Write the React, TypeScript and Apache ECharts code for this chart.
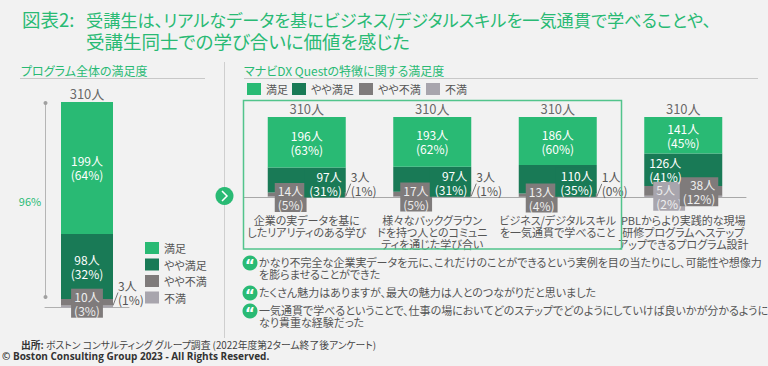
import React, { useEffect, useRef } from 'react';
import * as echarts from 'echarts';

const FONT = "'Noto Sans CJK JP', 'Noto Sans', sans-serif";
const GREEN = '#29BA74';
const TEXT_GRAY = '#555555';

const seriesNames = ['満足', 'やや満足', 'やや不満', '不満'];
const seriesColors = ['#29BA74', '#197A56', '#7F7B7B', '#A8A5AD'];

// Left: program overall
const overallCategory = ['プログラム全体'];
const overallTotal = [310];
const overallSatisfied = [199];
const overallSatisfiedPct = [64];
const overallSomewhatSatisfied = [98];
const overallSomewhatSatisfiedPct = [32];
const overallSomewhatDissatisfied = [10];
const overallSomewhatDissatisfiedPct = [3];
const overallDissatisfied = [3];
const overallDissatisfiedPct = [1];
const overallBracketLabel = '96%';

// Right: features of Manabi DX Quest
const featureCategories = [
  '企業の実データを基に\nしたリアリティのある学び',
  '様々なバックグラウン\nドを持つ人とのコミュニ\nティを通じた学び合い',
  'ビジネス/デジタルスキル\nを一気通貫で学べること',
  'PBLからより実践的な現場\n研修プログラムへステップ\nアップできるプログラム設計',
];
const featureTotal = [310, 310, 310, 310];
const featureSatisfied = [196, 193, 186, 141];
const featureSatisfiedPct = [63, 62, 60, 45];
const featureSomewhatSatisfied = [97, 97, 110, 126];
const featureSomewhatSatisfiedPct = [31, 31, 35, 41];
const featureSomewhatDissatisfied = [14, 17, 13, 38];
const featureSomewhatDissatisfiedPct = [5, 5, 4, 12];
const featureDissatisfied = [3, 3, 1, 5];
const featureDissatisfiedPct = [1, 1, 0, 2];

const titleLine1Head = '図表2:';
const titleLine1 = '受講生は、リアルなデータを基にビジネス/デジタルスキルを一気通貫で学べることや、';
const titleLine2 = '受講生同士での学び合いに価値を感じた';
const leftSubtitle = 'プログラム全体の満足度';
const rightSubtitle = 'マナビDX Questの特徴に関する満足度';
const quotes = [
  ['かなり不完全な企業実データを元に、これだけのことができるという実例を目の当たりにし、可能性や想像力', 'を膨らませることができた'],
  ['たくさん魅力はありますが、最大の魅力は人とのつながりだと思いました'],
  ['一気通貫で学べるということで、仕事の場においてどのステップでどのようにしていけば良いかが分かるように', 'なり貴重な経験だった'],
];
const sourceText = '{b|出所:} ボストン コンサルティング グループ調査 (2022年度第2ターム終了後アンケート)';
const copyrightText = '© Boston Consulting Group 2023 - All Rights Reserved.';

const lbl = (v: number, p: number) => `${v}人\n(${p}%)`;

const baseLabel = {
  show: true,
  color: '#ffffff',
  fontSize: 12,
  lineHeight: 14,
  fontFamily: FONT,
};

function txt(x: number, y: number, text: string, o: any = {}) {
  const align = o.align || 'left';
  return {
    type: 'text',
    x,
    y,
    silent: true,
    z: 10,
    style: {
      text,
      fill: o.fill || TEXT_GRAY,
      fontSize: o.fontSize || 11,
      fontFamily: o.fontFamily || FONT,
      fontWeight: o.fontWeight || 'normal',
      align,
      textAlign: align,
      verticalAlign: 'middle',
      textVerticalAlign: 'middle',
      rich: o.rich,
    },
  };
}

function buildOption() {
  const leftSeries: any[] = [
    {
      name: seriesNames[3],
      type: 'bar',
      stack: 'L',
      xAxisIndex: 0,
      yAxisIndex: 0,
      barWidth: 52,
      itemStyle: { color: seriesColors[3] },
      labelLine: { show: true, lineStyle: { color: '#777', width: 1 } },
      labelLayout: () => ({ dx: 2, dy: -14 }),
      data: overallDissatisfied.map((v, i) => ({
        value: v,
        label: { ...baseLabel, position: 'right', distance: 3, color: TEXT_GRAY, formatter: lbl(v, overallDissatisfiedPct[i]) },
      })),
    },
    {
      name: seriesNames[2],
      type: 'bar',
      stack: 'L',
      xAxisIndex: 0,
      yAxisIndex: 0,
      barWidth: 52,
      itemStyle: { color: seriesColors[2] },
      data: overallSomewhatDissatisfied.map((v, i) => ({
        value: v,
        label: {
          ...baseLabel,
          position: 'inside',
          offset: [0, 1],
          color: '#eeeeee',
          backgroundColor: seriesColors[2],
          padding: [1, 3, 0, 3],
          formatter: lbl(v, overallSomewhatDissatisfiedPct[i]),
        },
      })),
    },
    {
      name: seriesNames[1],
      type: 'bar',
      stack: 'L',
      xAxisIndex: 0,
      yAxisIndex: 0,
      barWidth: 52,
      itemStyle: { color: seriesColors[1] },
      data: overallSomewhatSatisfied.map((v, i) => ({
        value: v,
        label: { ...baseLabel, position: 'inside', formatter: lbl(v, overallSomewhatSatisfiedPct[i]) },
      })),
    },
    {
      name: seriesNames[0],
      type: 'bar',
      stack: 'L',
      xAxisIndex: 0,
      yAxisIndex: 0,
      barWidth: 52,
      itemStyle: { color: seriesColors[0] },
      data: overallSatisfied.map((v, i) => ({
        value: v,
        label: { ...baseLabel, position: 'inside', formatter: lbl(v, overallSatisfiedPct[i]) },
      })),
    },
    {
      name: 'total-left',
      type: 'scatter',
      xAxisIndex: 0,
      yAxisIndex: 0,
      symbolSize: 1,
      silent: true,
      itemStyle: { color: 'rgba(0,0,0,0)' },
      label: { show: true, position: 'top', distance: 2, formatter: '{c}人', color: '#444', fontSize: 13, fontFamily: FONT },
      data: overallTotal,
    },
  ];

  const rightSeries: any[] = [
    {
      name: seriesNames[3],
      type: 'bar',
      stack: 'R',
      xAxisIndex: 1,
      yAxisIndex: 1,
      barWidth: 78,
      itemStyle: { color: seriesColors[3] },
      labelLine: { show: true, lineStyle: { color: '#777', width: 1 } },
      labelLayout: (p: any) => (p.dataIndex < 3 ? { dx: 2, dy: -13 } : {}),
      data: featureDissatisfied.map((v, i) => ({
        value: v,
        labelLine: { show: i < 3 },
        label:
          i < 3
            ? { ...baseLabel, position: 'right', distance: 3, color: TEXT_GRAY, formatter: lbl(v, featureDissatisfiedPct[i]) }
            : {
                ...baseLabel,
                position: 'insideLeft',
                distance: 9,
                color: '#eeeeee',
                backgroundColor: seriesColors[3],
                padding: [1, 3, 0, 3],
                formatter: lbl(v, featureDissatisfiedPct[i]),
              },
      })),
    },
    {
      name: seriesNames[2],
      type: 'bar',
      stack: 'R',
      xAxisIndex: 1,
      yAxisIndex: 1,
      barWidth: 78,
      itemStyle: { color: seriesColors[2] },
      data: featureSomewhatDissatisfied.map((v, i) => ({
        value: v,
        label: {
          ...baseLabel,
          position: i < 3 ? 'insideLeft' : 'insideRight',
          distance: i < 3 ? 7 : 4,
          offset: i < 3 ? [0, 3] : [0, 1],
          color: '#eeeeee',
          backgroundColor: seriesColors[2],
          padding: [1, 3, 0, 3],
          formatter: lbl(v, featureSomewhatDissatisfiedPct[i]),
        },
      })),
    },
    {
      name: seriesNames[1],
      type: 'bar',
      stack: 'R',
      xAxisIndex: 1,
      yAxisIndex: 1,
      barWidth: 78,
      itemStyle: { color: seriesColors[1] },
      data: featureSomewhatSatisfied.map((v, i) => ({
        value: v,
        label:
          i < 3
            ? {
                ...baseLabel,
                position: 'insideRight',
                distance: 1,
                offset: [0, 3],
                backgroundColor: seriesColors[1],
                padding: [1, 3, 0, 5],
                formatter: lbl(v, featureSomewhatSatisfiedPct[i]),
              }
            : { ...baseLabel, position: 'insideLeft', distance: 5, offset: [0, 0], formatter: lbl(v, featureSomewhatSatisfiedPct[i]) },
      })),
    },
    {
      name: seriesNames[0],
      type: 'bar',
      stack: 'R',
      xAxisIndex: 1,
      yAxisIndex: 1,
      barWidth: 78,
      itemStyle: { color: seriesColors[0] },
      data: featureSatisfied.map((v, i) => ({
        value: v,
        label: { ...baseLabel, position: 'inside', formatter: lbl(v, featureSatisfiedPct[i]) },
      })),
    },
    {
      name: 'total-right',
      type: 'scatter',
      xAxisIndex: 1,
      yAxisIndex: 1,
      symbolSize: 1,
      silent: true,
      itemStyle: { color: 'rgba(0,0,0,0)' },
      label: { show: true, position: 'top', distance: 2, formatter: '{c}人', color: '#444', fontSize: 13, fontFamily: FONT },
      data: featureTotal,
    },
  ];

  const graphic: any[] = [
    txt(22, 19, titleLine1Head, { fill: GREEN, fontSize: 18.5 }),
    txt(86, 19, titleLine1, { fill: GREEN, fontSize: 17.2 }),
    txt(86, 41, titleLine2, { fill: GREEN, fontSize: 18.5 }),
    txt(21, 70, leftSubtitle, { fill: GREEN, fontSize: 12 }),
    txt(244, 70, rightSubtitle, { fill: GREEN, fontSize: 12 }),
    { type: 'line', silent: true, shape: { x1: 20, y1: 78.5, x2: 205, y2: 78.5 }, style: { stroke: '#c8c8c8', lineWidth: 1 } },
    { type: 'line', silent: true, shape: { x1: 244, y1: 78.5, x2: 758, y2: 78.5 }, style: { stroke: '#c8c8c8', lineWidth: 1 } },
    { type: 'line', silent: true, shape: { x1: 224.5, y1: 62, x2: 224.5, y2: 338 }, style: { stroke: '#cfcfcf', lineWidth: 1 } },
    { type: 'circle', silent: true, shape: { cx: 224.5, cy: 196, r: 9 }, style: { fill: GREEN } },
    {
      type: 'polyline',
      silent: true,
      shape: { points: [[222, 191], [227, 196], [222, 201]] },
      style: { stroke: '#ffffff', lineWidth: 1.5, fill: 'none' },
    },
    { type: 'line', silent: true, shape: { x1: 45.5, y1: 103, x2: 45.5, y2: 297 }, style: { stroke: '#b5b5b5', lineWidth: 1 } },
    { type: 'circle', silent: true, shape: { cx: 45.5, cy: 103, r: 2 }, style: { fill: '#a0a0a0' } },
    { type: 'circle', silent: true, shape: { cx: 45.5, cy: 297, r: 2 }, style: { fill: '#a0a0a0' } },
    txt(30, 201, overallBracketLabel, { fill: GREEN, fontSize: 11, align: 'center' }),
    {
      type: 'rect',
      silent: true,
      shape: { x: 243.5, y: 100.5, width: 378, height: 148.5 },
      style: { fill: 'none', stroke: '#52c48c', lineWidth: 1.5 },
      z: 5,
    },
    txt(21, 345, sourceText, { fontSize: 9.8, fill: '#444', rich: { b: { fontWeight: 'bold', fontSize: 9.8, fontFamily: FONT, fill: '#333' } } }),
    txt(2, 356, copyrightText, { fontSize: 10, fill: '#333', fontWeight: 'bold', fontFamily: "'Open Sans', 'Noto Sans', sans-serif" }),
  ];

  const quoteY = [[262, 274], [292], [310, 322]];
  quotes.forEach((lines, qi) => {
    const cy = quoteY[qi][0] + 1;
    graphic.push({ type: 'circle', silent: true, shape: { cx: 250, cy, r: 7.5 }, style: { fill: GREEN } });
    graphic.push(txt(250, cy + 3, '“', { fill: '#ffffff', fontSize: 15, fontWeight: 'bold', align: 'center', fontFamily: "'DejaVu Sans', sans-serif" }));
    lines.forEach((line, li) => {
      graphic.push(txt(259, quoteY[qi][li], line, { fontSize: 11, fill: TEXT_GRAY }));
    });
  });

  return {
    animation: false,
    backgroundColor: '#f2f2f2',
    textStyle: { fontFamily: FONT },
    legend: [
      {
        data: seriesNames,
        orient: 'vertical',
        left: 145,
        top: 242,
        padding: 0,
        itemWidth: 14,
        itemHeight: 12,
        itemGap: 4.5,
        icon: 'rect',
        selectedMode: false,
        textStyle: { fontSize: 11, color: TEXT_GRAY, fontFamily: FONT },
      },
      {
        data: seriesNames,
        orient: 'horizontal',
        left: 247,
        top: 83,
        padding: 0,
        itemWidth: 14,
        itemHeight: 12,
        itemGap: 4,
        icon: 'rect',
        selectedMode: false,
        textStyle: { fontSize: 11, color: TEXT_GRAY, fontFamily: FONT },
      },
    ],
    grid: [
      { left: 45, width: 84, top: 102, height: 205.5 },
      { left: 244, width: 502, top: 117, height: 80 },
    ],
    xAxis: [
      {
        gridIndex: 0,
        type: 'category',
        data: overallCategory,
        axisLine: { lineStyle: { color: '#b0b0b0' } },
        axisTick: { show: false },
        axisLabel: { show: false },
      },
      {
        gridIndex: 1,
        type: 'category',
        data: featureCategories,
        axisLine: { lineStyle: { color: '#a8a8a8' } },
        axisTick: { show: false },
        axisLabel: { interval: 0, fontSize: 11, lineHeight: 12, color: TEXT_GRAY, margin: 17, fontFamily: FONT },
      },
    ],
    yAxis: [
      { gridIndex: 0, type: 'value', min: 0, max: 310, show: false },
      { gridIndex: 1, type: 'value', min: 0, max: 310, show: false },
    ],
    series: [...leftSeries, ...rightSeries],
    graphic,
  };
}

export default function App() {
  const ref = useRef<HTMLDivElement>(null);
  useEffect(() => {
    if (!ref.current) return;
    const chart = echarts.init(ref.current, null, { renderer: 'svg' });
    chart.setOption(buildOption() as any);
    return () => chart.dispose();
  }, []);
  return (
    <>
      <style>{`body{margin:0;background:#f2f2f2} #chart text, #chart tspan { font-feature-settings: "palt" !important; }`}</style>
      <div id="chart" ref={ref} style={{ position: 'absolute', left: 0, top: 0, width: 768, height: 366 }} />
    </>
  );
}
